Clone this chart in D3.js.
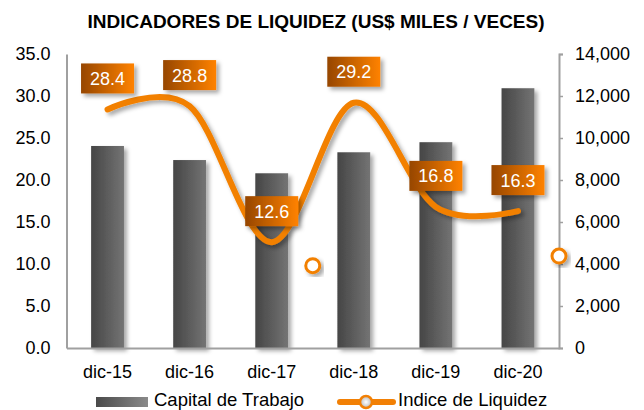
<!DOCTYPE html>
<meta charset="utf-8">
<script src="https://d3js.org/d3.v7.min.js"></script>
<style>
  body { margin: 0; background: #fff; }
  text { font-family: "Liberation Sans", Arial, sans-serif; }
</style>
<div id="chart"></div>
<script>
// data
var categories = ["dic-15", "dic-16", "dic-17", "dic-18", "dic-19", "dic-20"];
var capitalTrabajo = [9620, 8950, 8320, 9320, 9800, 12370];   // US$ miles, right axis
var indiceLiquidez = [28.4, 28.8, 12.6, 29.2, 16.8, 16.3];    // veces, left axis
var leftTicks = [0, 5, 10, 15, 20, 25, 30, 35];
var rightTicks = [0, 2000, 4000, 6000, 8000, 10000, 12000, 14000];
// stray markers left in the original picture (position in category units, left-axis value)
var strayPos = [3, 6];
var strayVal = [9.8, 10.95];

var W = 644, H = 410;
var margin = {top: 54, right: 85, bottom: 62, left: 66.5};

var svg = d3.select("#chart").append("svg")
    .attr("width", W)
    .attr("height", H);

var defs = svg.append("defs");

var barGrad = defs.append("linearGradient").attr("id", "barGrad");
barGrad.append("stop").attr("offset", "0%").attr("stop-color", "#454545");
barGrad.append("stop").attr("offset", "100%").attr("stop-color", "#747474");

var lblGrad = defs.append("linearGradient").attr("id", "lblGrad");
lblGrad.append("stop").attr("offset", "0%").attr("stop-color", "#964600");
lblGrad.append("stop").attr("offset", "100%").attr("stop-color", "#ff8200");

var legGrad = defs.append("linearGradient").attr("id", "legGrad");
legGrad.append("stop").attr("offset", "0%").attr("stop-color", "#4a4a4a");
legGrad.append("stop").attr("offset", "100%").attr("stop-color", "#8a8a8a");

var dotGrad = defs.append("radialGradient").attr("id", "dotGrad");
dotGrad.append("stop").attr("offset", "0%").attr("stop-color", "#ffffff");
dotGrad.append("stop").attr("offset", "100%").attr("stop-color", "#b8b8b8");

var shadow = defs.append("filter").attr("id", "shadow")
    .attr("x", "-30%").attr("y", "-30%").attr("width", "160%").attr("height", "160%");
shadow.append("feDropShadow")
    .attr("dx", 3).attr("dy", 3).attr("stdDeviation", 2.2)
    .attr("flood-color", "#000").attr("flood-opacity", 0.35);

var x0 = margin.left, x1 = W - margin.right;
var yTop = margin.top, yBot = H - margin.bottom;

var x = d3.scaleBand()
    .domain(categories)
    .range([x0, x1])
    .paddingInner(0.6)
    .paddingOuter(0.3);

// continuous position in category units (0..n)
var xc = d3.scaleLinear().domain([0, categories.length]).range([x0, x1]);

var yL = d3.scaleLinear().domain([0, 35]).range([yBot, yTop]);
var yR = d3.scaleLinear().domain([0, 14000]).range([yBot, yTop]);

// title
svg.append("text")
    .attr("x", 316)
    .attr("y", 28)
    .attr("text-anchor", "middle")
    .style("font-size", "19px")
    .style("font-weight", "bold")
    .attr("fill", "#000")
    .text("INDICADORES DE LIQUIDEZ (US$ MILES / VECES)");

// bars
svg.append("g")
  .selectAll("rect")
  .data(capitalTrabajo)
  .enter()
  .append("rect")
    .attr("x", function(d, i) { return x(categories[i]); })
    .attr("y", function(d) { return yR(d); })
    .attr("width", x.bandwidth())
    .attr("height", function(d) { return yBot - yR(d); })
    .attr("fill", "url(#barGrad)")
    .attr("filter", "url(#shadow)");

// axes
var leftAxis = svg.append("g")
    .attr("transform", "translate(" + x0 + ",0)")
    .call(d3.axisLeft(yL).tickValues(leftTicks).tickFormat(d3.format(".1f")).tickSize(0).tickPadding(16));

var rightAxis = svg.append("g")
    .attr("transform", "translate(" + x1 + ",0)")
    .call(d3.axisRight(yR).tickValues(rightTicks).tickFormat(d3.format(",")).tickSize(4).tickSizeOuter(4).tickPadding(12));

var bottomAxis = svg.append("g")
    .attr("transform", "translate(0," + yBot + ")")
    .call(d3.axisBottom(x).tickSize(0).tickSizeOuter(0).tickPadding(17));

[leftAxis, rightAxis, bottomAxis].forEach(function(a) {
  a.select(".domain").attr("stroke", "#a0a0a0").attr("stroke-width", 2);
  a.selectAll(".tick line").attr("stroke", "#a0a0a0").attr("stroke-width", 1.5);
  a.selectAll("text").style("font-size", "18px").attr("fill", "#000");
});
bottomAxis.selectAll("text").attr("dy", "0.71em");

// line
var line = d3.line()
    .x(function(d, i) { return x(categories[i]) + x.bandwidth() / 2; })
    .y(function(d) { return yL(d); })
    .curve(d3.curveCatmullRom.alpha(0));

svg.append("path")
    .datum(indiceLiquidez)
    .attr("d", line)
    .attr("fill", "none")
    .attr("stroke", "#f28005")
    .attr("stroke-width", 6)
    .attr("stroke-linecap", "round")
    .attr("filter", "url(#shadow)");

// stray markers
svg.append("g")
  .selectAll("circle")
  .data(strayVal)
  .enter()
  .append("circle")
    .attr("cx", function(d, i) { return xc(strayPos[i]); })
    .attr("cy", function(d) { return yL(d); })
    .attr("r", 7)
    .attr("fill", "#fff")
    .attr("stroke", "#f28005")
    .attr("stroke-width", 3)
    .attr("filter", "url(#shadow)");

// data labels
var lw = 53, lh = 30, lOff = 31;
var labels = svg.append("g")
  .selectAll("g")
  .data(indiceLiquidez)
  .enter()
  .append("g")
    .attr("transform", function(d, i) {
      return "translate(" + (x(categories[i]) + x.bandwidth() / 2) + "," + (yL(d) - lOff) + ")";
    });

labels.append("rect")
    .attr("x", -lw / 2)
    .attr("y", -lh / 2)
    .attr("width", lw)
    .attr("height", lh)
    .attr("fill", "url(#lblGrad)")
    .attr("filter", "url(#shadow)");

labels.append("text")
    .attr("text-anchor", "middle")
    .attr("dy", "0.36em")
    .style("font-size", "18px")
    .attr("fill", "#fff")
    .text(function(d) { return d3.format(".1f")(d); });

// legend
var leg = svg.append("g");
leg.append("rect")
    .attr("x", 96).attr("y", 397)
    .attr("width", 52).attr("height", 10)
    .attr("fill", "url(#legGrad)");
leg.append("text")
    .attr("x", 154).attr("y", 406)
    .style("font-size", "18.5px")
    .text("Capital de Trabajo");

leg.append("line")
    .attr("x1", 340).attr("x2", 393)
    .attr("y1", 402).attr("y2", 402)
    .attr("stroke", "#f28005")
    .attr("stroke-width", 6)
    .attr("stroke-linecap", "round");
leg.append("circle")
    .attr("cx", 366).attr("cy", 402).attr("r", 6)
    .attr("fill", "url(#dotGrad)")
    .attr("stroke", "#f28005")
    .attr("stroke-width", 2.5);
leg.append("text")
    .attr("x", 398).attr("y", 406)
    .style("font-size", "18.5px")
    .text("Indice de Liquidez");
</script>
